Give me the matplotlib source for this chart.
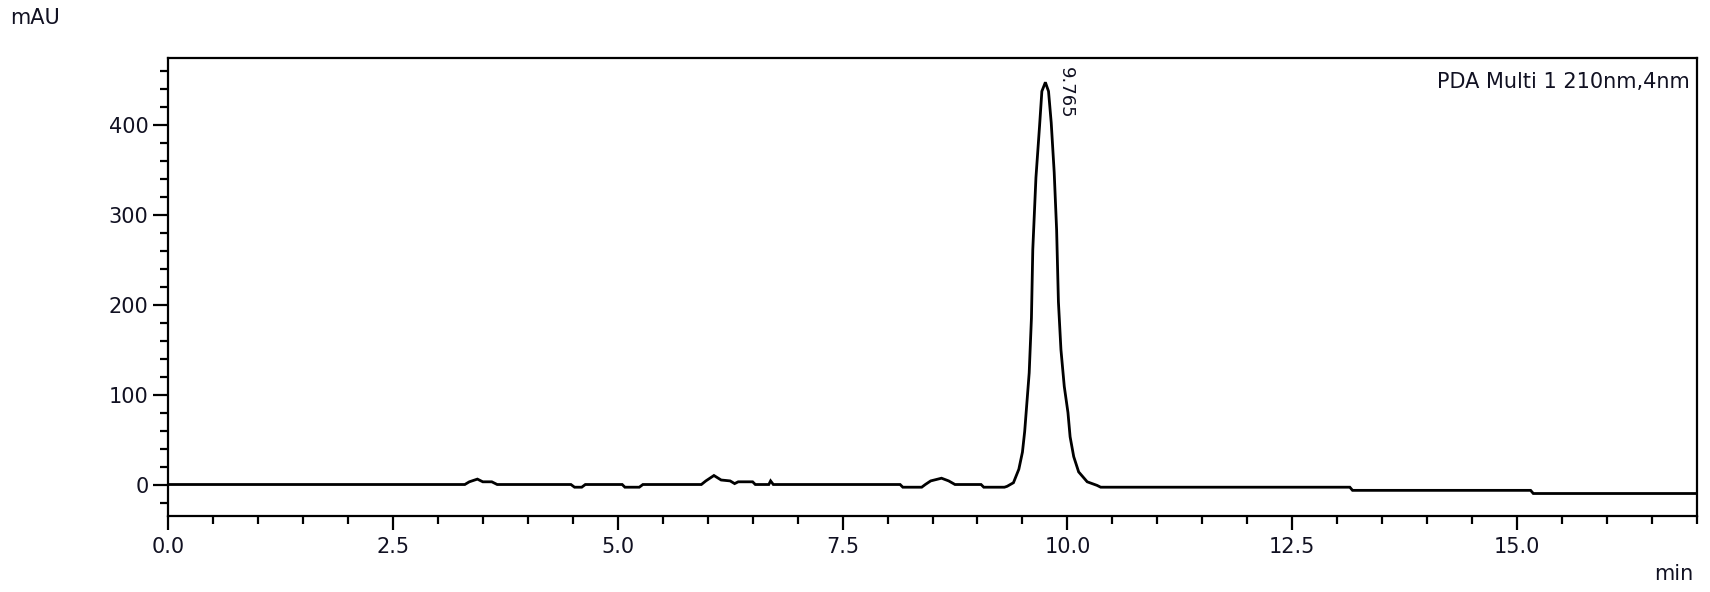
import matplotlib
matplotlib.use("Agg")
import matplotlib.pyplot as plt
from matplotlib.ticker import MultipleLocator, FixedLocator

# ---- data (time in min, absorbance in mAU) ----
time_min = [
    0.00, 3.30, 3.35, 3.44, 3.50, 3.60, 3.66,
    4.48, 4.52, 4.60, 4.64, 5.05, 5.08, 5.24, 5.28,
    5.93, 5.98, 6.07, 6.15, 6.25, 6.30, 6.34, 6.50, 6.53,
    6.68, 6.70, 6.73, 8.14, 8.17, 8.38, 8.42, 8.48, 8.60, 8.68, 8.75,
    9.04, 9.07, 9.30,
    9.33, 9.40, 9.46, 9.50, 9.525, 9.575, 9.600, 9.615, 9.650, 9.690, 9.716,
    9.755,
    9.790, 9.820, 9.853, 9.880, 9.900, 9.928, 9.965, 10.006, 10.030, 10.070,
    10.125, 10.220, 10.330, 10.370,
    13.14, 13.17, 15.15, 15.18, 17.00,
]
absorbance_mau = [
    0, 0, 3, 6, 3, 3, 0,
    0, -3, -3, 0, 0, -3, -3, 0,
    0, 4, 10, 5, 4, 1, 3, 3, 0,
    0, 4, 0, 0, -3, -3, 0, 4, 7, 4, 0,
    0, -3, -3,
    -2, 2, 17, 36, 59, 124, 185, 261, 341, 398, 437,
    447,
    437, 402, 347, 283, 203, 150, 109, 80, 53, 31,
    14, 3, -1, -3,
    -3, -6.5, -6.5, -10, -10,
]

peak_time = 9.765
peak_label = "9.765"
legend_text = "PDA Multi 1 210nm,4nm"
x_major_ticks = [0.0, 2.5, 5.0, 7.5, 10.0, 12.5, 15.0]
y_major_ticks = [0, 100, 200, 300, 400]

plt.rcParams['font.family'] = ['DejaVu Sans']
txt_color = '#111122'

fig = plt.figure(figsize=(17.10, 5.92), dpi=100)
ax = fig.add_axes([168/1710, 1 - 516/592, (1697-168)/1710, (516-58)/592])

ax.plot(time_min, absorbance_mau, color='black', lw=2.0, solid_joinstyle='miter')

ax.set_xlim(0, 17.0)
ax.set_ylim(-35, 474)

ax.xaxis.set_major_locator(FixedLocator(x_major_ticks))
ax.xaxis.set_minor_locator(MultipleLocator(0.5))
ax.yaxis.set_major_locator(FixedLocator(y_major_ticks))
ax.yaxis.set_minor_locator(MultipleLocator(20))
ax.set_xticklabels([f"{t:.1f}" for t in x_major_ticks])
ax.set_yticklabels([str(v) for v in y_major_ticks])

ax.tick_params(axis='x', which='major', direction='out', length=10, width=1.6,
               labelsize=15, pad=5, colors='black', labelcolor=txt_color)
ax.tick_params(axis='x', which='minor', direction='out', length=6, width=1.6)
ax.tick_params(axis='y', which='major', direction='out', length=11, width=1.6,
               labelsize=15, pad=3, colors='black', labelcolor=txt_color)
ax.tick_params(axis='y', which='minor', direction='out', length=6, width=1.6)

for s in ax.spines.values():
    s.set_linewidth(1.6)
    s.set_color('black')

# axis unit labels
fig.text(10/1710, 1 - 18/592, "mAU", fontsize=15, color=txt_color,
         ha='left', va='center')
fig.text(1693/1710, 1 - 574/592, "min", fontsize=15, color=txt_color,
         ha='right', va='center')

# channel text
ax.text(0.995, 0.97, legend_text, transform=ax.transAxes, fontsize=15,
        color=txt_color, ha='right', va='top')

# peak retention time label
ax.annotate(peak_label, xy=(peak_time, 447), xytext=(9.88, 464),
            textcoords='data', rotation=270, fontsize=13, color=txt_color,
            ha='left', va='top')

fig.savefig("out.png", dpi=100)
